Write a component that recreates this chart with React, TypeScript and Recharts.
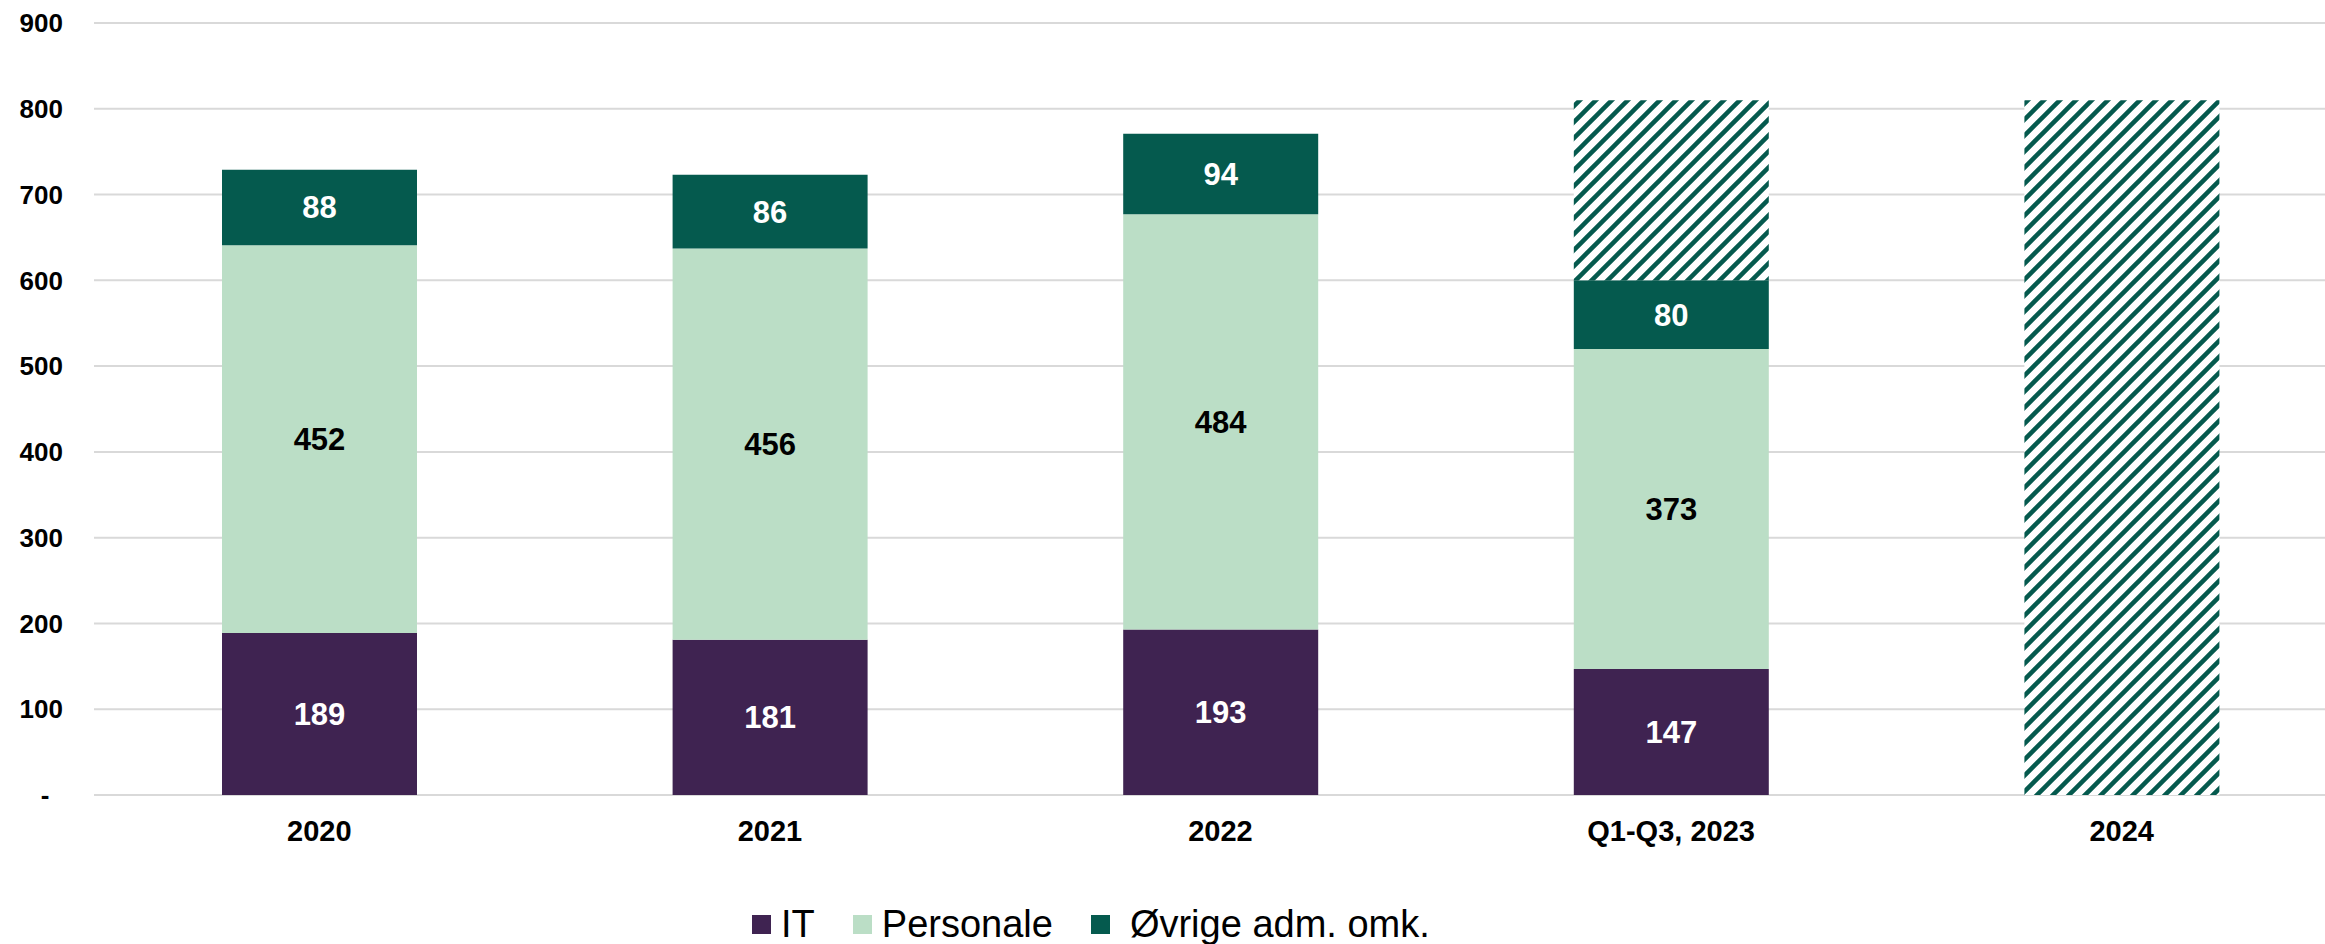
import React from 'react';
import { BarChart, Bar, XAxis, YAxis, CartesianGrid, Legend, LabelList } from 'recharts';

const categories = ['2020', '2021', '2022', 'Q1-Q3, 2023', '2024'];
const itValues = [189, 181, 193, 147, null];
const personaleValues = [452, 456, 484, 373, null];
const ovrigeValues = [88, 86, 94, 80, null];
const budgetValues = [null, null, null, 210, 810];
const yTicks = [0, 100, 200, 300, 400, 500, 600, 700, 800, 900];

const seriesNames = { it: 'IT', personale: 'Personale', ovrige: 'Øvrige adm. omk.' };
const colors = { it: '#3f2351', personale: '#bbdec6', ovrige: '#055a4e' };

const data = categories.map((cat, i) => ({
  cat,
  it: itValues[i],
  personale: personaleValues[i],
  ovrige: ovrigeValues[i],
  budget: budgetValues[i],
}));

const FONT = '"Liberation Sans", Arial, sans-serif';

const YTick = (props: any) => {
  const { x, y, payload } = props;
  const isZero = payload.value === 0;
  return (
    <text
      x={isZero ? 45 : x}
      y={y}
      dy="0.355em"
      textAnchor={isZero ? 'middle' : 'end'}
      fontFamily={FONT}
      fontSize={26}
      fontWeight="bold"
      fill="#000"
    >
      {isZero ? '-' : payload.value}
    </text>
  );
};

const legendItems = [
  { key: 'it', gap: 10 },
  { key: 'personale', gap: 10 },
  { key: 'ovrige', gap: 20 },
];

const LegendContent = () => (
  <div style={{ display: 'flex', alignItems: 'center', fontFamily: FONT, fontSize: 38, lineHeight: '38px', whiteSpace: 'nowrap' }}>
    {legendItems.map((it, idx) => (
      <div key={it.key} style={{ display: 'flex', alignItems: 'center', marginRight: idx < legendItems.length - 1 ? 38 : 0 }}>
        <div style={{ width: 19, height: 19, background: (colors as any)[it.key] }} />
        <span style={{ marginLeft: it.gap, color: '#000' }}>{(seriesNames as any)[it.key]}</span>
      </div>
    ))}
  </div>
);

export default function App() {
  return (
    <div style={{ position: 'absolute', left: 0, top: 0, width: 2325, height: 944, overflow: 'hidden', background: '#fff' }}>
      <BarChart
        width={2360}
        height={944}
        data={data}
        margin={{ top: 23, right: 13, left: 0, bottom: 89 }}
        barSize={195}
      >
        <defs>
          <pattern id="hatch" patternUnits="userSpaceOnUse" width="16" height="16">
            <rect width="16" height="16" fill="#fff" />
            <path d="M0,16 L16,0 M-4,4 L4,-4 M12,20 L20,12" stroke={colors.ovrige} strokeWidth={4.5} />
          </pattern>
        </defs>
        <CartesianGrid vertical={false} stroke="#d9d9d9" strokeWidth={2} />
        <XAxis
          dataKey="cat"
          height={60}
          tickLine={false}
          axisLine={false}
          tickSize={6}
          tickMargin={19}
          tick={{ fontFamily: FONT, fontSize: 29, fontWeight: 'bold', fill: '#000' }}
          interval={0}
        />
        <YAxis
          width={94}
          domain={[0, 900]}
          ticks={yTicks}
          tickLine={false}
          axisLine={false}
          tickSize={6}
          tickMargin={25}
          tick={<YTick />}
          interval={0}
        />
        <Legend
          layout="horizontal"
          verticalAlign="middle"
          align="center"
          content={<LegendContent />}
          wrapperStyle={{ left: 752, top: 905, width: 'auto', height: 'auto' }}
        />
        <Bar dataKey="it" name={seriesNames.it} stackId="a" fill={colors.it} isAnimationActive={false}>
          <LabelList dataKey="it" position="center" fill="#fff" fontSize={31} fontWeight="bold" fontFamily={FONT} />
        </Bar>
        <Bar dataKey="personale" name={seriesNames.personale} stackId="a" fill={colors.personale} isAnimationActive={false}>
          <LabelList dataKey="personale" position="center" fill="#000" fontSize={31} fontWeight="bold" fontFamily={FONT} />
        </Bar>
        <Bar dataKey="ovrige" name={seriesNames.ovrige} stackId="a" fill={colors.ovrige} isAnimationActive={false}>
          <LabelList dataKey="ovrige" position="center" fill="#fff" fontSize={31} fontWeight="bold" fontFamily={FONT} />
        </Bar>
        <Bar dataKey="budget" stackId="a" fill="url(#hatch)" legendType="none" isAnimationActive={false} />
      </BarChart>
    </div>
  );
}
